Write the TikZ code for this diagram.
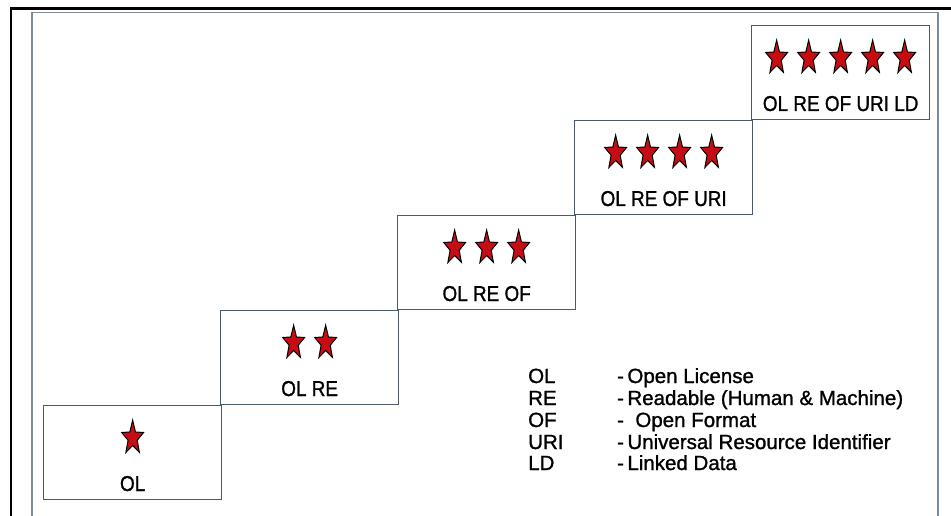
\documentclass[tikz,border=0pt]{standalone}
\usepackage{fontspec}
\setmainfont{Liberation Sans}[FakeStretch=0.88, FakeBold=1.2]
\newfontfamily\keyfont{Liberation Sans}[FakeBold=1.2]
\usepackage{xcolor}
\usepackage{tikz}
\usetikzlibrary{positioning}
\usetikzlibrary{shapes.geometric, calc}

\definecolor{framegray}{RGB}{125,140,155}
\definecolor{boxgray}{RGB}{75,90,105}
\definecolor{starred}{RGB}{200,12,20}

\begin{document}
\begin{tikzpicture}[x=1pt,y=-1pt,
		levelbox/.style={draw=boxgray, line width=1.3pt, minimum width=178pt, minimum height=94pt, inner sep=0pt, anchor=north west},
		redstar/.style={star, star points=5, star point ratio=2.4, minimum size=23pt, inner sep=0pt, fill=starred, draw=black, line width=1pt, yscale=1.55},
		lab/.style={font=\fontsize{21.5}{24}\selectfont, inner sep=0pt, anchor=base},
		keylab/.style={font=\keyfont\fontsize{20.5}{24}\selectfont, inner sep=0pt, anchor=base west}]
		\useasboundingbox (0,0) rectangle (951,516);

		% page frame
		\draw[line width=3pt] (10,8.5) -- (951,8.5);
		\draw[line width=1.5pt] (11,8.5) -- (11,516);
		\draw[framegray, line width=1.6pt] (32,516) -- (32,12.5) -- (938,12.5) -- (938,516);

		% staircase of levels, one more star per step
		\foreach \i/\txt in {0/OL, 1/OL RE, 2/OL RE OF, 3/OL RE OF URI, 4/OL RE OF URI LD} {
				\node[levelbox] (lvl\i) at (43+177*\i, 405-95*\i) {};
				\node[lab] (lab\i) at ($(lvl\i.north)+(0,86)$) {\txt};
				\foreach \j in {0,...,\i} {
						\node[redstar] (star\i\j) at ($(lvl\i.north)+({(\j-\i/2)*32},33)$) {};
					}
			}

		% legend
		\foreach \y/\abbr/\desc [count=\n] in {383/OL/{-\,Open License}, 405/RE/{-\,Readable (Human \& Machine)}, 427/OF/{-\ \ Open Format}, 449/URI/{-\,Universal Resource Identifier}, 470/LD/{-\,Linked Data}} {
				\node[keylab] (key\n) at (528,\y) {\abbr};
				\node[keylab] (desc\n) at (617,\y) {\desc};
			}
	\end{tikzpicture}
\end{document}
